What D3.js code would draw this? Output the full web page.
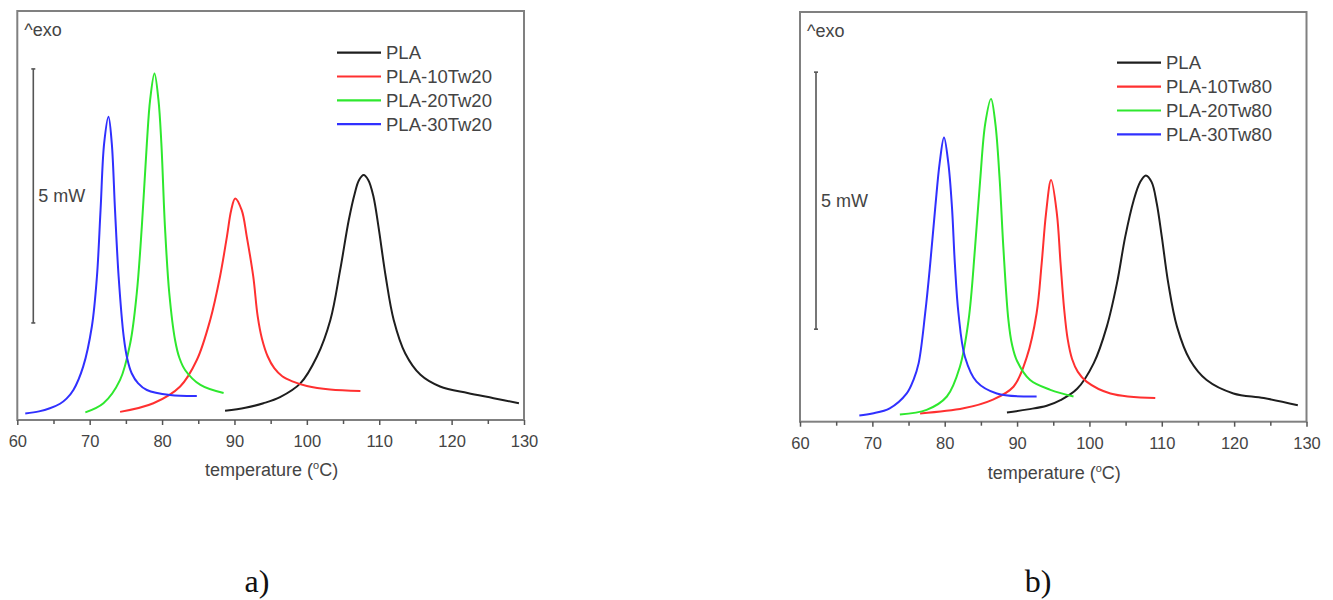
<!DOCTYPE html>
<html>
<head>
<meta charset="utf-8">
<script src="https://cdn.jsdelivr.net/npm/d3@7"></script>
<style>
  body { margin: 0; background: #fff; }
  svg { display: block; }
</style>
</head>
<body>
<svg></svg>
<script>
const width = 1333;
const height = 600;

const seriesNames = ['PLA', 'PLA-10Tw', 'PLA-20Tw', 'PLA-30Tw'];
const colors = ['#1e1e1e', '#ff3030', '#2ee82e', '#3030ff'];
const xTicks = [60, 70, 80, 90, 100, 110, 120, 130];
const xMinor = [65, 75, 85, 95, 105, 115, 125];

// panel a) : Tween 20 (heat flow in mW, arbitrary zero)
const a_plaT = [88.7, 91.5, 94.0, 96.3, 99.1, 101.4, 103.25, 104.6, 105.8, 106.6, 107.2, 107.85, 108.5, 109.2, 109.9, 110.9, 112.0, 113.6, 115.7, 118.4, 122.2, 125.8, 129.3];
const a_plaV = [0.18, 0.24, 0.33, 0.45, 0.72, 1.25, 1.97, 2.95, 3.94, 4.45, 4.72, 4.82, 4.72, 4.4, 3.8, 2.82, 1.97, 1.31, 0.89, 0.66, 0.53, 0.43, 0.33];
const a_10T = [74.2, 78.8, 82.5, 84.8, 86.65, 88.0, 88.96, 89.55, 90.1, 91.0, 91.7, 92.6, 93.2, 93.8, 94.6, 95.5, 96.6, 98.0, 100.0, 103.2, 107.4];
const a_10V = [0.16, 0.33, 0.66, 1.18, 1.97, 2.82, 3.61, 4.13, 4.36, 4.13, 3.61, 2.82, 2.05, 1.6, 1.25, 1.02, 0.86, 0.76, 0.67, 0.6, 0.57];
const a_20T = [69.4, 71.9, 74.2, 75.6, 76.5, 77.2, 77.9, 78.35, 78.95, 79.5, 79.9, 80.4, 81.0, 81.8, 82.4, 83.2, 85.3, 88.5];
const a_20V = [0.15, 0.33, 0.79, 1.51, 2.49, 3.8, 5.45, 6.3, 6.82, 6.3, 5.45, 3.8, 2.49, 1.57, 1.22, 0.98, 0.69, 0.53];
const a_30T = [61.1, 63, 64.5, 65.9, 66.8, 67.75, 69.1, 70.3, 71.0, 71.5, 72.0, 72.6, 73.05, 73.5, 74.0, 74.7, 75.2, 75.8, 76.7, 77.9, 81.1, 84.8];
const a_30V = [0.13, 0.17, 0.23, 0.32, 0.42, 0.59, 1.05, 1.84, 2.82, 4.13, 5.45, 5.97, 5.45, 4.13, 2.82, 1.64, 1.2, 0.92, 0.72, 0.59, 0.49, 0.47];

// panel b) : Tween 80
const b_plaT = [88.6, 91.5, 94.1, 96.0, 98.3, 100.6, 102.4, 103.8, 104.95, 106.1, 107.0, 107.8, 108.6, 109.3, 110.0, 110.9, 112.1, 113.9, 116.2, 119.9, 124.1, 128.8];
const b_plaV = [0.18, 0.24, 0.31, 0.42, 0.64, 1.14, 1.85, 2.69, 3.6, 4.3, 4.66, 4.79, 4.66, 4.25, 3.6, 2.69, 1.85, 1.2, 0.81, 0.55, 0.46, 0.32];
const b_10T = [76.6, 82.6, 86.5, 89.5, 91.35, 92.7, 93.4, 94.0, 94.7, 95.5, 96.0, 96.5, 97.0, 97.6, 98.4, 99.6, 102.9, 109.1];
const b_10V = [0.16, 0.26, 0.42, 0.68, 1.26, 2.11, 3.08, 4.05, 4.7, 4.05, 3.1, 2.2, 1.6, 1.22, 0.97, 0.78, 0.55, 0.46];
const b_20T = [73.8, 77.5, 80.3, 82.1, 83.3, 84.2, 84.9, 85.6, 86.4, 87.0, 87.6, 88.1, 88.8, 89.3, 90.0, 91.8, 94.6, 97.8];
const b_20V = [0.14, 0.23, 0.49, 1.07, 1.98, 3.4, 4.7, 5.8, 6.28, 5.8, 4.7, 3.4, 1.98, 1.5, 1.18, 0.81, 0.62, 0.49];
const b_30T = [68.2, 70, 72.4, 74.75, 75.7, 76.4, 77.3, 78.0, 78.7, 79.3, 79.9, 80.5, 81.0, 81.4, 81.9, 82.8, 84.4, 87.2, 92.7];
const b_30V = [0.12, 0.16, 0.26, 0.55, 0.82, 1.14, 2.11, 3.08, 4.18, 5.03, 5.53, 5.03, 4.18, 3.08, 2.11, 1.26, 0.78, 0.55, 0.49];

const zip = (t, v) => t.map((d, i) => ({ t: d, v: v[i] }));

const font = 'Liberation Sans, Arial, sans-serif';

const panels = [
    {
        left: 17.3, right: 524, top: 11, bottom: 420, yMax: 8.05,
        suffix: '20', tag: 'a)', tagX: 257, barBase: 1.91,
        series: [zip(a_plaT, a_plaV), zip(a_10T, a_10V), zip(a_20T, a_20V), zip(a_30T, a_30V)],
        legendX: 337, legendY: 52.7, legendStep: 23.8,
        titleY: 476
    },
    {
        left: 800, right: 1306.5, top: 12, bottom: 421.7, yMax: 7.97,
        suffix: '80', tag: 'b)', tagX: 1038, barBase: 1.80,
        series: [zip(b_plaT, b_plaV), zip(b_10T, b_10V), zip(b_20T, b_20V), zip(b_30T, b_30V)],
        legendX: 1117, legendY: 62.7, legendStep: 23.9,
        titleY: 478.5
    }
];

const svg = d3.select('svg')
    .attr('width', width)
    .attr('height', height);

panels.forEach(p => drawPanel(p));

function drawPanel(p) {
    const x = d3.scaleLinear().domain([60, 130]).range([p.left, p.right]);
    const y = d3.scaleLinear().domain([0, p.yMax]).range([p.bottom, p.top]);
    const g = svg.append('g');

    g.append('rect')
        .attr('x', p.left)
        .attr('y', p.top)
        .attr('width', p.right - p.left)
        .attr('height', p.bottom - p.top)
        .attr('fill', 'none')
        .attr('stroke', '#808080')
        .attr('stroke-width', 2);

    // minor ticks
    g.append('g')
        .attr('transform', `translate(0, ${p.bottom})`)
        .call(d3.axisBottom(x).tickValues(xMinor).tickSize(4).tickFormat(''))
        .call(a => a.select('.domain').remove())
        .call(a => a.selectAll('line').attr('stroke', '#555').attr('stroke-width', 1.5));

    g.append('g')
        .attr('transform', `translate(0, ${p.bottom})`)
        .call(d3.axisBottom(x).tickValues(xTicks).tickSize(5).tickPadding(10.5))
        .call(a => a.select('.domain').remove())
        .call(a => a.selectAll('line').attr('stroke', '#555').attr('stroke-width', 1.5))
        .call(a => a.selectAll('text')
            .attr('font-family', font)
            .attr('font-size', 16.5)
            .attr('fill', '#444'));

    const mid = (p.left + p.right) / 2;
    const title = g.append('text')
        .attr('x', mid + 1)
        .attr('y', p.titleY)
        .attr('text-anchor', 'middle')
        .attr('font-family', font)
        .attr('font-size', 18)
        .attr('fill', '#444');
    title.append('tspan').text('temperature (');
    title.append('tspan').attr('font-size', 11).attr('dy', -7).text('o');
    title.append('tspan').attr('dy', 7).text('C)');

    g.append('text')
        .attr('x', p.left + 7)
        .attr('y', p.top + 25)
        .attr('font-family', font)
        .attr('font-size', 18)
        .attr('fill', '#444')
        .text('^exo');

    // 5 mW scale bar
    const barX = p.left + 16;
    const y0 = y(p.barBase);
    const y1 = y(p.barBase + 5);
    g.append('line')
        .attr('x1', barX).attr('x2', barX)
        .attr('y1', y0).attr('y2', y1)
        .attr('stroke', '#555').attr('stroke-width', 1.6);
    [y0, y1].forEach(yy => g.append('line')
        .attr('x1', barX - 2).attr('x2', barX + 2)
        .attr('y1', yy).attr('y2', yy)
        .attr('stroke', '#555').attr('stroke-width', 1.6));
    g.append('text')
        .attr('x', barX + 5)
        .attr('y', (y0 + y1) / 2 + 6.5)
        .attr('font-family', font)
        .attr('font-size', 18)
        .attr('fill', '#444')
        .text('5 mW');

    const line = d3.line()
        .x(d => x(d.t))
        .y(d => y(d.v))
        .curve(d3.curveCatmullRom.alpha(0.5));

    g.selectAll('.curve')
        .data(p.series)
        .enter()
        .append('path')
            .classed('curve', true)
            .attr('d', line)
            .attr('fill', 'none')
            .attr('stroke', (_, i) => colors[i])
            .attr('stroke-width', 2);

    // legend
    const leg = g.selectAll('.leg')
        .data(seriesNames)
        .enter()
        .append('g')
            .classed('leg', true)
            .attr('transform', (_, i) => `translate(${p.legendX}, ${p.legendY + i * p.legendStep})`);
    leg.append('line')
        .attr('x1', 0).attr('x2', 44)
        .attr('stroke', (_, i) => colors[i])
        .attr('stroke-width', 2.2);
    leg.append('text')
        .attr('x', 49)
        .attr('y', 6.6)
        .attr('font-family', font)
        .attr('font-size', 18.5)
        .attr('fill', '#444')
        .text((d, i) => i === 0 ? d : d + p.suffix);

    g.append('text')
        .attr('x', p.tagX)
        .attr('y', 592)
        .attr('text-anchor', 'middle')
        .attr('font-family', 'Liberation Serif, Times New Roman, serif')
        .attr('font-size', 32)
        .attr('fill', '#111')
        .text(p.tag);
}
</script>
</body>
</html>
